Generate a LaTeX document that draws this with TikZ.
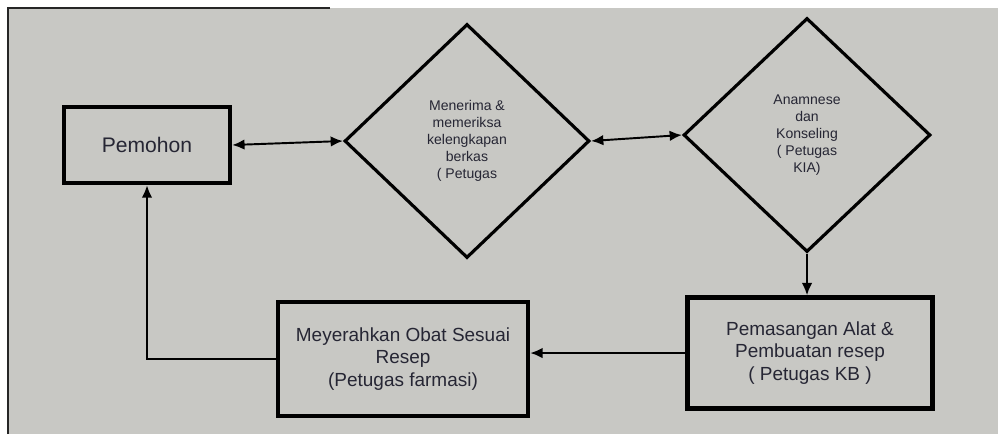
\documentclass[tikz,border=0pt]{standalone}
\usepackage{fontspec}
\setmainfont{Liberation Sans}
\usepackage{tikz}
\usetikzlibrary{shapes.geometric,arrows.meta}
\usepackage{xcolor}
\definecolor{screen}{RGB}{200,200,196}
\definecolor{ink}{RGB}{38,38,52}

\begin{document}
\begin{tikzpicture}[x=0.02cm, y=-0.02cm,
    box/.style={draw=black, line width=2.6pt, text=ink, align=center, inner sep=2pt},
    choice/.style={diamond, draw=black, line width=1.8pt, text=ink, align=center, inner sep=0pt, font=\fontsize{8}{9.6}\selectfont},
    link/.style={line width=1.1pt, -{Latex[length=7pt,width=6pt]}},
    both/.style={line width=1.1pt, {Latex[length=7pt,width=6pt]}-{Latex[length=7pt,width=6pt]}}
]
    \useasboundingbox (0,0) rectangle (998,434);

    % Screen background
    \fill[white] (0,0) rectangle (998,434);
    \fill[screen] (8,8) rectangle (998,434);
    \draw[line width=1.4pt, black!85] (8,434) -- (8,8) -- (330,8);

    % Pemohon box (left)
    \node[box, minimum width=3.32cm, minimum height=1.52cm, font=\fontsize{12}{14}\selectfont] (pemohon) at (147,145) {Pemohon};

    % Diamonds - checking and counselling
    \node[choice, minimum width=4.9cm, minimum height=4.68cm] (berkas) at (467,141) {Menerima \&\\memeriksa\\kelengkapan\\berkas\\( Petugas};
    \node[choice, minimum width=4.94cm, minimum height=4.68cm] (kia) at (807,135) {Anamnese\\dan\\Konseling\\( Petugas\\KIA)};

    % Bottom row boxes
    \node[box, minimum width=4.9cm, minimum height=2.22cm, font=\fontsize{10.8}{12.6}\selectfont] (kb) at (810,353) {Pemasangan Alat \&\\Pembuatan resep\\( Petugas KB )};
    \node[box, minimum width=5.0cm, minimum height=2.28cm, font=\fontsize{10.8}{12.6}\selectfont] (farmasi) at (403,359) {Meyerahkan Obat Sesuai\\Resep\\(Petugas farmasi)};

    % Arrows
    \draw[both] (pemohon.east) -- (berkas.west);
    \draw[both] (berkas.east) -- (kia.west);
    \draw[link] (kia.south) -- (kia.south |- kb.north);
    \draw[link] (kb.west) -- (kb.west -| farmasi.east);
    \draw[link] (farmasi.west) -| (pemohon.south);

\end{tikzpicture}
\end{document}
